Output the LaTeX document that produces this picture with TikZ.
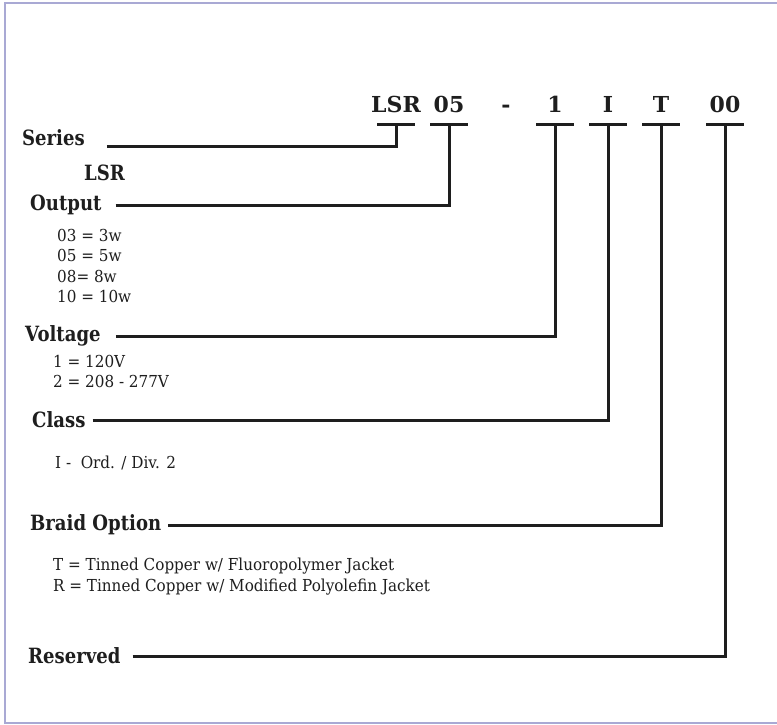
\documentclass[tikz,border=0pt]{standalone}
\usepackage{fontspec}
\setmainfont{DejaVu Serif}
\newfontfamily\fieldfont[FakeStretch=0.86]{DejaVu Serif}
\newfontfamily\notefont[FakeStretch=0.92]{DejaVu Serif}
\usetikzlibrary{positioning}
\definecolor{wirecol}{HTML}{1E1E1E}
\definecolor{framecol}{HTML}{A9A9D4}

\begin{document}
\begin{tikzpicture}[x=1pt, y=-1pt]
    % styles
    \tikzstyle{code} = [font=\bfseries\fontsize{22}{26}\selectfont, inner sep=0pt, anchor=base, text=wirecol]
    \tikzstyle{field} = [font=\fieldfont\bfseries\fontsize{21}{25}\selectfont, inner sep=0pt, anchor=west, text=wirecol]
    \tikzstyle{note} = [font=\notefont\fontsize{16.5}{20.5}\selectfont, inner sep=0pt, anchor=west, align=left, text=wirecol]
    \tikzstyle{wire} = [line width=3pt, draw=wirecol]
    \tikzstyle{bar} = [line width=3pt, draw=wirecol]

    % frame
    \useasboundingbox (0,0) rectangle (777,725);
    \fill [white] (0,0) rectangle (777,725);
    \draw [framecol, line width=1.5pt] (780,3) -- (5,3) -- (5,723) -- (780,723);

    % part number
    \node (cLSR) [code] at (396,112) {LSR};
    \node (c05) [code] at (449,112) {05};
    \node (cdash) [code] at (506,112) {-};
    \node (c1) [code] at (555,112) {1};
    \node (cI) [code] at (608,112) {I};
    \node (cT) [code] at (661,112) {T};
    \node (c00) [code] at (725,112) {00};

    \coordinate (barLSR) at (396,124);
    \coordinate (bar05) at (449,124);
    \coordinate (bar1) at (555,124);
    \coordinate (barI) at (608,124);
    \coordinate (barT) at (661,124);
    \coordinate (bar00) at (725,124);
    \foreach \b in {barLSR,bar05,bar1,barI,barT,bar00}
        \draw [bar] ([xshift=-19pt]\b) -- ([xshift=19pt]\b);

    % fields
    \node (series) [field] at (22,138) {Series};
    \node (lsr) [field] at (84,173) {LSR};
    \node (output) [field] at (30,205) {Output};
    \node (voltage) [field] at (25,336) {Voltage};
    \node (class) [field] at (32,420) {Class};
    \node (braid) [field] at (30,525) {Braid Option};
    \node (reserved) [field] at (28,656) {Reserved};

    % notes
    \node (outnote) [note, anchor=north west] at (57,229) {03 = 3w\\05 = 5w\\08= 8w\\10 = 10w};
    \node (voltnote) [note, anchor=north west] at (53,355) {1 = 120V\\2 = 208 - 277V};
    \node (classnote) [note] at (55,463) {I -\ \ Ord. / Div. 2};
    \node (braidnote) [note, anchor=north west] at (53,558) {T = Tinned Copper w/ Fluoropolymer Jacket\\R = Tinned Copper w/ Modified Polyolefin Jacket};

    % connectors
    \draw [wire] ([xshift=22pt,yshift=-8pt]series.east) -| (barLSR);
    \draw [wire] ([xshift=14pt]output.east) -| (bar05);
    \draw [wire] ([xshift=15pt]voltage.east) -| (bar1);
    \draw [wire] ([xshift=7pt]class.east) -| (barI);
    \draw [wire] ([xshift=7pt]braid.east) -| (barT);
    \draw [wire] ([xshift=12pt]reserved.east) -| (bar00);
\end{tikzpicture}
\end{document}
